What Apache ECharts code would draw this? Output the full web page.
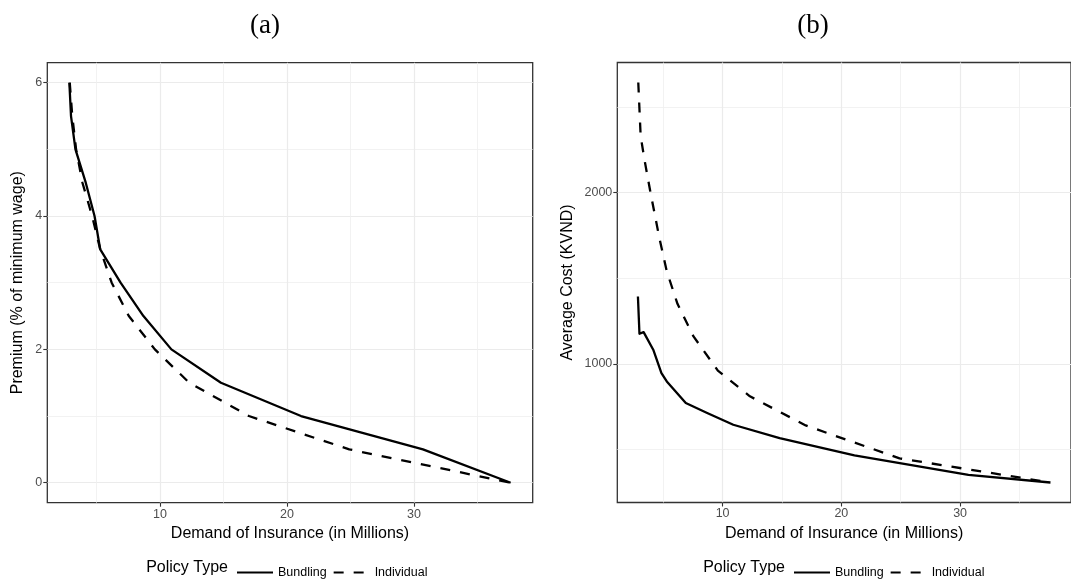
<!DOCTYPE html>
<html>
<head>
<meta charset="utf-8">
<script src="https://cdn.jsdelivr.net/npm/echarts@6/dist/echarts.min.js"></script>
<style>
  html, body { margin: 0; padding: 0; background: #ffffff; }
  #chart { width: 1071px; height: 579px; }
</style>
</head>
<body>
<div id="chart"></div>
<script>
// Premium levels (% of minimum wage) and the demand each policy type reaches
const premium = [6, 5.5, 5, 4.5, 4, 3.5, 3, 2.5, 2, 1.5, 1, 0.5, 0];
const bundlingDemand = [2.87, 3.0, 3.35, 4.16, 4.85, 5.3, 6.9, 8.7, 10.9, 14.8, 21.1, 30.7, 37.6];
const individualDemand = [2.9, 3.1, 3.4, 3.9, 4.66, 5.3, 6.2, 7.55, 9.6, 12.3, 17.0, 24.9, 37.6];

// Average cost (KVND) at the same premium levels
const bundlingCost = [1393, 1175, 1185, 1082, 946, 897, 771, 713, 644, 566, 465, 352, 307];
const individualCost = [2642, 2330, 2200, 2010, 1740, 1540, 1350, 1160, 960, 810, 640, 448, 307];

// Tick values
const demandTicks = [10, 20, 30];
const demandMinor = [5, 15, 25, 35];
const premiumTicks = [0, 2, 4, 6];
const premiumMinor = [1, 3, 5];
const costTicks = [1000, 2000];
const costMinor = [500, 1500, 2500];

const seriesNames = ['Bundling', 'Individual'];

// Expand an axis range by 5% on each side of the data
function expanded(values) {
  const lo = Math.min(...values), hi = Math.max(...values);
  const pad = (hi - lo) * 0.05;
  return [lo - pad, hi + pad];
}
const demandRange = expanded(bundlingDemand.concat(individualDemand));
const premiumRange = expanded(premium);
const costRange = expanded(bundlingCost.concat(individualCost));

const FONT = 'Liberation Sans, Arial, sans-serif';
const GRID_MAJOR = { show: true, lineStyle: { color: '#EBEBEB', width: 1.2 } };
const GRID_MINOR = { show: true, lineStyle: { color: '#EFEFEF', width: 0.8 } };

function majorAxis(gridIndex, range, ticks, extra) {
  return Object.assign({
    type: 'value',
    gridIndex: gridIndex,
    min: range[0],
    max: range[1],
    axisLine: { show: false, onZero: false },
    axisTick: { show: true, length: 4, customValues: ticks, lineStyle: { color: '#333333', width: 1.1 } },
    axisLabel: {
      show: true, customValues: ticks, color: '#4D4D4D', fontSize: 12.5, fontFamily: FONT, margin: 5,
      formatter: v => String(v)
    },
    splitLine: GRID_MAJOR,
    nameTextStyle: { color: '#000000', fontSize: 16, fontFamily: FONT },
    nameLocation: 'middle'
  }, extra);
}
function minorAxis(gridIndex, range, ticks, position) {
  return {
    type: 'value',
    gridIndex: gridIndex,
    position: position,
    min: range[0],
    max: range[1],
    axisLine: { show: false, onZero: false },
    axisTick: { show: false, customValues: ticks },
    axisLabel: { show: false, customValues: ticks },
    splitLine: GRID_MINOR
  };
}

function curve(xs, ys) {
  return xs.map((x, i) => [x, ys[i]]);
}
function lineSeries(name, data, xi, yi, dashed) {
  return {
    name: name,
    type: 'line',
    xAxisIndex: xi,
    yAxisIndex: yi,
    data: data,
    showSymbol: false,
    symbol: 'none',
    silent: true,
    color: '#000000',
    lineStyle: {
      color: '#000000',
      width: 2.3,
      type: dashed ? [10, 10] : 'solid',
      cap: 'butt',
      join: 'round'
    },
    z: 5
  };
}

const chart = echarts.init(document.getElementById('chart'), null, { renderer: 'canvas' });

// Line-only legend keys: the marker symbol is made fully transparent
const legendCommon = {
  orient: 'horizontal',
  data: seriesNames,
  itemWidth: 36,
  itemHeight: 14,
  itemGap: 6,
  selectedMode: false,
  itemStyle: { color: 'rgba(0,0,0,0)', borderColor: 'rgba(0,0,0,0)', borderWidth: 0 },
  textStyle: { color: '#000000', fontSize: 12.5, fontFamily: FONT }
};

chart.setOption({
  animation: false,
  backgroundColor: '#ffffff',
  grid: [
    { left: 47.3, top: 62.7, width: 485.4, height: 440, show: true, borderColor: '#333333', borderWidth: 1.3, backgroundColor: 'transparent' },
    { left: 617.3, top: 62.5, width: 463, height: 440, show: true, borderColor: '#333333', borderWidth: 1.3, backgroundColor: 'transparent' }
  ],
  xAxis: [
    majorAxis(0, demandRange, demandTicks, { position: 'bottom', name: 'Demand of Insurance (in Millions)', nameGap: 20 }),
    minorAxis(0, demandRange, demandMinor, 'bottom'),
    majorAxis(1, demandRange, demandTicks, { position: 'bottom', name: 'Demand of Insurance (in Millions)', nameGap: 20 }),
    minorAxis(1, demandRange, demandMinor, 'bottom')
  ],
  yAxis: [
    majorAxis(0, premiumRange, premiumTicks, { position: 'left', name: 'Premium (% of minimum wage)', nameGap: 22 }),
    minorAxis(0, premiumRange, premiumMinor, 'left'),
    majorAxis(1, costRange, costTicks, { position: 'left', name: 'Average Cost (KVND)', nameGap: 42 }),
    minorAxis(1, costRange, costMinor, 'left')
  ],
  legend: [
    Object.assign({ left: 231, top: 561 }, legendCommon),
    Object.assign({ left: 788, top: 561 }, legendCommon)
  ],
  graphic: [
    { type: 'text', x: 265, y: 26, style: { text: '(a)', font: '27px "Liberation Serif", serif', fill: '#000000', textAlign: 'center', textVerticalAlign: 'middle' } },
    { type: 'text', x: 813, y: 26, style: { text: '(b)', font: '27px "Liberation Serif", serif', fill: '#000000', textAlign: 'center', textVerticalAlign: 'middle' } },
    { type: 'text', x: 228, y: 568, style: { text: 'Policy Type', font: '16px "Liberation Sans", Arial, sans-serif', fill: '#000000', textAlign: 'right', textVerticalAlign: 'middle' } },
    { type: 'text', x: 785, y: 568, style: { text: 'Policy Type', font: '16px "Liberation Sans", Arial, sans-serif', fill: '#000000', textAlign: 'right', textVerticalAlign: 'middle' } }
  ],
  series: [
    lineSeries('Bundling', curve(bundlingDemand, premium), 0, 0, false),
    lineSeries('Individual', curve(individualDemand, premium), 0, 0, true),
    lineSeries('Bundling', curve(bundlingDemand, bundlingCost), 2, 2, false),
    lineSeries('Individual', curve(individualDemand, individualCost), 2, 2, true)
  ]
});
</script>
</body>
</html>
